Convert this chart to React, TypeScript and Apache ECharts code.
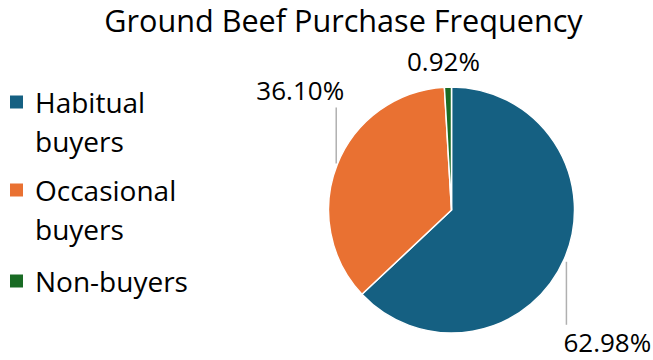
import React, { useEffect, useRef } from "react";
import * as echarts from "echarts";

const TITLE = "Ground Beef Purchase Frequency";
const CATEGORIES = ["Habitual buyers", "Occasional buyers", "Non-buyers"];
const LEGEND_TEXT = ["Habitual\nbuyers", "Occasional\nbuyers", "Non-buyers"];
const SHARES = [62.98, 36.1, 0.92];
const COLORS = ["#156082", "#E97132", "#196B24"];

// label placement relative to the slice's outer-edge anchor point
const LABEL_PLACE = [
  { dx: -1, dy: 83, align: "left", line: [2, 3, 2, 66] },
  { dx: -37, dy: -75, align: "center", line: [-1, -1, -1, -57] },
  { dx: -4.5, dy: -26, align: "center", line: null },
];
const LEGEND_ICON_CENTER = [102, 190, 281];
const FONT = "'Open Sans', 'Liberation Sans', sans-serif";

export default function App() {
  const ref = useRef<HTMLDivElement>(null);
  useEffect(() => {
    document.body.style.margin = "0";
    if (!ref.current) return;
    const chart = echarts.init(ref.current, null, { renderer: "svg" });
    const legendLine = 39;
    const legends = CATEGORIES.map((name, i) => {
      const lines = LEGEND_TEXT[i].split("\n").length;
      // for multi-line entries a blank leading line keeps the first text line level with the icon
      const text = lines > 1 ? " \n" + LEGEND_TEXT[i] : LEGEND_TEXT[i];
      const totalLines = lines > 1 ? lines + 1 : lines;
      const boxH = totalLines * legendLine;
      return {
        orient: "vertical",
        left: 10,
        top: LEGEND_ICON_CENTER[i] - boxH / 2,
        padding: 0,
        itemGap: 0,
        itemWidth: 13,
        itemHeight: 13,
        icon: "rect",
        selectedMode: false,
        data: [name],
        itemStyle: { borderWidth: 0 },
        formatter: () => text,
        textStyle: {
          fontFamily: FONT,
          fontSize: 28,
          lineHeight: legendLine,
          color: "#000",
          padding: [0, 0, 0, 7],
        },
      };
    });
    chart.setOption({
      animation: false,
      title: {
        text: TITLE,
        left: 343.5,
        textAlign: "center",
        top: 4,
        padding: 0,
        textStyle: { fontFamily: FONT, fontSize: 30.6, fontWeight: "normal", color: "#000" },
      },
      legend: legends,
      series: [
        {
          type: "pie",
          center: [451.5, 210],
          radius: 123,
          startAngle: 90,
          clockwise: true,
          avoidLabelOverlap: false,
          color: COLORS,
          itemStyle: { borderColor: "#fff", borderWidth: 1.5 },
          label: {
            show: true,
            position: "outside",
            fontFamily: FONT,
            fontSize: 26,
            color: "#000",
            formatter: (p: any) => SHARES[p.dataIndex].toFixed(2) + "%",
          },
          labelLine: {
            show: true,
            length: 10,
            length2: 10,
            lineStyle: { color: "#b0b0b0", width: 1.5 },
          },
          labelLayout: (p: any) => {
            const pts = p.labelLinePoints;
            if (!pts) return {};
            const [x0, y0] = pts[0];
            const pl = LABEL_PLACE[p.dataIndex];
            const out: any = {
              x: x0 + pl.dx,
              y: y0 + pl.dy,
              align: pl.align,
              verticalAlign: "middle",
            };
            out.labelLinePoints = pl.line
              ? [
                  [x0 + pl.line[0], y0 + pl.line[1]],
                  [x0 + pl.line[2], y0 + pl.line[3]],
                ]
              : [
                  [x0, y0],
                  [x0, y0],
                ];
            return out;
          },
          data: CATEGORIES.map((name, i) => ({
            name,
            value: SHARES[i],
            labelLine: LABEL_PLACE[i].line ? undefined : { lineStyle: { opacity: 0 } },
          })),
        },
      ],
    });
    return () => chart.dispose();
  }, []);
  return <div ref={ref} style={{ width: 653, height: 360 }} />;
}
